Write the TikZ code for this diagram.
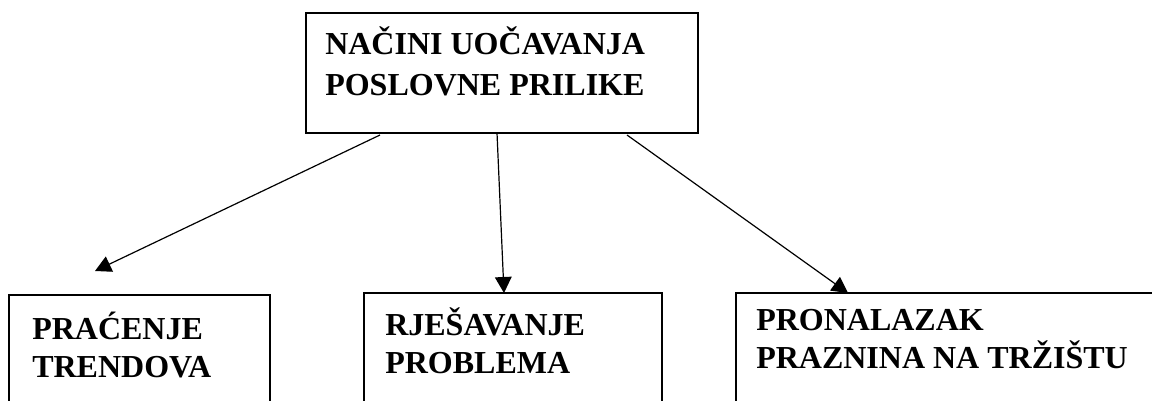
\documentclass[tikz,border=0pt]{standalone}
\usepackage{fontspec}
\setmainfont{Liberation Serif}
\usetikzlibrary{arrows.meta}
\begin{document}
\begin{tikzpicture}[x=0.75pt,y=-0.75pt,
  box/.style={draw, line width=1pt, inner sep=0pt, outer sep=0pt, anchor=north west},
  toplbl/.style={font=\fontsize{24}{30.75}\selectfont\bfseries, align=left, inner sep=0pt, anchor=base west},
  botlbl/.style={font=\fontsize{24}{28.2}\selectfont\bfseries, align=left, inner sep=0pt, anchor=base west},
  conn/.style={line width=0.9pt, -{Triangle[length=12pt,width=12.5pt]}}]
\useasboundingbox (0,0) rectangle (1152,400);
\clip (0,0) rectangle (1152,400);
% boxes
\node[box, minimum width=294pt, minimum height=90pt] (top) at (306,13) {};
\node[box, minimum width=195.75pt, minimum height=95pt] (b1) at (9,295) {};
\node[box, minimum width=223.5pt, minimum height=96pt] (b2) at (364,293) {};
\node[box, minimum width=322.5pt, minimum height=96pt] (b3) at (736,293) {};
% labels (anchored at the baseline of the last line)
\node[toplbl] (t0) at (325,95) {NAČINI UOČAVANJA\\POSLOVNE PRILIKE};
\node[botlbl] (t1) at (32,377) {PRAĆENJE\\TRENDOVA};
\node[botlbl] (t2) at (385,373) {RJEŠAVANJE\\PROBLEMA};
\node[botlbl] (t3) at (756,368) {PRONALAZAK\\PRAZNINA NA TRŽIŠTU};
% connector ends
\coordinate (s1) at (380,135);
\coordinate (s2) at (497,133);
\coordinate (s3) at (627,135);
\coordinate (e1) at (95,271);
\draw[conn] (s1) -- (e1);
\draw[conn] (s2) -- (b2.north west -| 504,0);
\draw[conn] (s3) -- (b3.north west -| 848,0);
\end{tikzpicture}
\end{document}
